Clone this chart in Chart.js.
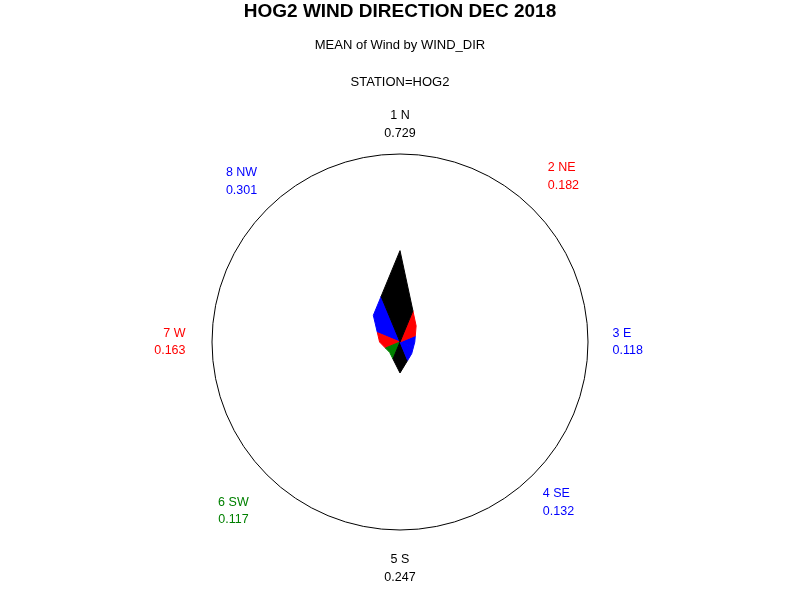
<!DOCTYPE html>
<html>
<head>
<meta charset="utf-8">
<script src="https://cdn.jsdelivr.net/npm/chart.js@4/dist/chart.umd.min.js"></script>
<style>
html,body{margin:0;padding:0;background:#ffffff;}
canvas{display:block;}
</style>
</head>
<body>
<canvas id="c" width="800" height="600"></canvas>
<script>
// ---- data ----
const directions = ['1 N', '2 NE', '3 E', '4 SE', '5 S', '6 SW', '7 W', '8 NW'];
const meanWind = [0.729, 0.182, 0.118, 0.132, 0.247, 0.117, 0.163, 0.301];
const axisMax = 1.5;

// ---- styles ----
const sliceColors = ['#000000', '#FF0000', '#0000FF', '#0000FF', '#000000', '#008000', '#FF0000', '#0000FF'];
const labelPadding = [12, 21, 24.5, 14, 21, 26, 26.5, 14];

const n = directions.length;
const halfSector = Math.PI / n;
// radius where the outline chord between two neighbouring spokes crosses the bisecting ray
function edgeValue(a, b) { return 2 * a * b * Math.cos(halfSector) / (a + b); }

const spokeLabels = [];
directions.forEach((d, i) => {
  spokeLabels.push([d, meanWind[i].toFixed(3)]);
  spokeLabels.push([]);
});

const datasets = directions.map((d, i) => {
  const data = new Array(2 * n).fill(0);
  const prev = (i - 1 + n) % n, next = (i + 1) % n;
  data[2 * i] = meanWind[i];
  data[2 * i + 1] = edgeValue(meanWind[i], meanWind[next]);
  data[(2 * i - 1 + 2 * n) % (2 * n)] = edgeValue(meanWind[prev], meanWind[i]);
  return {
    label: d,
    data: data,
    backgroundColor: sliceColors[i],
    borderColor: sliceColors[i],
    borderWidth: 1,
    borderJoinStyle: 'bevel',
    fill: 'origin',
    pointRadius: 0,
    pointHoverRadius: 0,
    tension: 0
  };
});

Chart.defaults.font.family = "'Liberation Sans', Arial, sans-serif";
Chart.defaults.color = '#000000';

new Chart(document.getElementById('c'), {
  type: 'radar',
  data: { labels: spokeLabels, datasets: datasets },
  options: {
    responsive: false,
    animation: false,
    devicePixelRatio: 1,
    layout: { padding: { top: 0, bottom: 9, left: 0, right: 0 } },
    plugins: {
      legend: { display: false },
      tooltip: { enabled: false },
      title: {
        display: true,
        text: 'HOG2 WIND DIRECTION DEC 2018',
        color: '#000000',
        font: { size: 19, weight: 'bold', lineHeight: 1.2 },
        padding: { top: 0.6, bottom: 3.75 }
      },
      subtitle: {
        display: true,
        text: ['MEAN of Wind by WIND_DIR', 'STATION=HOG2'],
        color: '#000000',
        font: { size: 13, lineHeight: 36.7 / 13 },
        padding: { top: 0, bottom: 2.45 }
      }
    },
    scales: {
      r: {
        min: 0,
        max: axisMax,
        ticks: { display: false, stepSize: axisMax },
        angleLines: { display: false },
        grid: { circular: true, color: '#000000', lineWidth: 1 },
        pointLabels: {
          display: true,
          font: { size: 12.5, lineHeight: 1.4 },
          color: (ctx) => sliceColors[Math.floor(ctx.index / 2)],
          padding: (ctx) => (ctx.index % 2 === 0 ? labelPadding[ctx.index / 2] : 0)
        }
      }
    }
  }
});
</script>
</body>
</html>
